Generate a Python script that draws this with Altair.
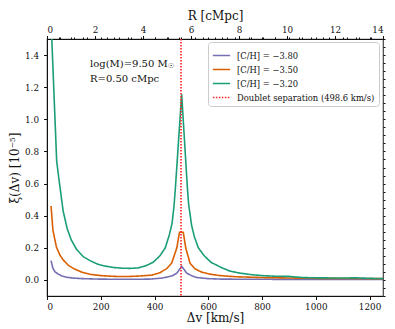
import altair as alt
import pandas as pd

# ---------------- data ----------------
names = ["[C/H] = \u22123.80", "[C/H] = \u22123.50", "[C/H] = \u22123.20"]
doublet_label = "Doublet separation (498.6 km/s)"
doublet_dv = [498.6]

purple_dv = [15, 22, 30, 41, 55, 72, 100, 134, 200, 300, 380, 430, 465, 483, 501,
             520, 540, 557, 600, 650, 800, 1000, 1250]
purple_xi = [0.12, 0.073, 0.05, 0.037, 0.025, 0.017, 0.011, 0.008, 0.005, 0.004, 0.005,
             0.012, 0.025, 0.042, 0.085, 0.042, 0.025, 0.015, 0.008, 0.005, 0.004, 0.003, 0.003]

orange_dv = [15, 22, 35, 48, 60, 80, 100, 130, 160, 200, 250, 300, 350, 390, 420, 445,
             464, 483, 493, 507, 516, 532, 550, 576, 610, 644, 700, 800, 900, 1000, 1250]
orange_xi = [0.46, 0.31, 0.205, 0.155, 0.125, 0.09, 0.07, 0.048, 0.035, 0.027, 0.022,
             0.021, 0.025, 0.03, 0.045, 0.07, 0.105, 0.2, 0.297, 0.297, 0.2, 0.105,
             0.07, 0.048, 0.035, 0.027, 0.02, 0.015, 0.012, 0.01, 0.008]

green_dv = [15, 36, 45, 60, 75, 90, 110, 135, 160, 190, 220, 250, 280, 310, 340, 370,
            395, 420, 440, 455, 465, 472, 478, 501, 522, 527, 538, 548, 563, 585, 610,
            645, 680, 720, 760, 800, 850, 900, 950, 1000, 1100, 1150, 1200, 1250]
green_xi = [1.62, 0.74, 0.62, 0.43, 0.32, 0.25, 0.19, 0.145, 0.12, 0.097, 0.085, 0.077,
            0.073, 0.072, 0.075, 0.09, 0.11, 0.15, 0.2, 0.28, 0.35, 0.45, 0.58, 1.156,
            0.58, 0.47, 0.34, 0.27, 0.2, 0.15, 0.11, 0.08, 0.055, 0.042, 0.033, 0.027,
            0.023, 0.022, 0.015, 0.013, 0.012, 0.013, 0.01, 0.008]

x_major = [0, 200, 400, 600, 800, 1000, 1200]
x_minor = [v * 50 for v in range(0, 26)]
y_major = [0.0, 0.2, 0.4, 0.6, 0.8, 1.0, 1.2, 1.4]
y_minor = [round(-0.1 + 0.05 * i, 2) for i in range(0, 33)]
r_major = [0, 2, 4, 6, 8, 10, 12, 14]
r_minor = [0.5 * i for i in range(0, 29)]

annot_dv = [160, 160]
annot_xi = [1.345, 1.25]
annot_text = ["log(M)=9.50 M", "R=0.50 cMpc"]
sun_dv = [160]
sun_xi = [1.335]
sun_text = ["\u2609"]

# ---------------- tables ----------------
rows = []
for name, xs, ys in [(names[0], purple_dv, purple_xi),
                     (names[1], orange_dv, orange_xi),
                     (names[2], green_dv, green_xi)]:
    for a, b in zip(xs, ys):
        rows.append({"dv": a, "xi": b, "series": name})
df = pd.DataFrame(rows)
df_rule = pd.DataFrame({"dv": doublet_dv, "series": [doublet_label]})
df_xminor = pd.DataFrame({"dv": [0, 1250]})
df_yminor = pd.DataFrame({"xi": [-0.1, 1.5]})
df_r = pd.DataFrame({"R": [0, 14]})
df_txt = pd.DataFrame({"dv": annot_dv, "xi": annot_xi, "t": annot_text})
df_sun = pd.DataFrame({"dv": sun_dv, "xi": sun_xi, "t": sun_text})

FONT = "DejaVu Serif"
xscale = alt.Scale(domain=[0, 1250], nice=False, zero=False)
yscale = alt.Scale(domain=[-0.1, 1.5], nice=False, zero=False)
rscale = alt.Scale(domain=[0, 14], nice=False, zero=False)

domain_all = names + [doublet_label]
color_scale = alt.Scale(domain=domain_all,
                        range=["#7570b3", "#d95f02", "#1b9e77", "#ff2020"])
dash_scale = alt.Scale(domain=domain_all,
                       range=[[1, 0], [1, 0], [1, 0], [1.5, 1.5]])

legend = alt.Legend(title=None, orient="none", legendX=161, legendY=3,
                    symbolType="stroke", symbolSize=300, symbolStrokeWidth=1.6,
                    labelFont=FONT, labelFontSize=8.4, labelColor="#111",
                    fillColor="white", strokeColor="#cccccc", padding=4,
                    cornerRadius=3, rowPadding=-4.5, labelOffset=6)

axis_common = dict(labelFont=FONT, titleFont=FONT, labelFontSize=8.8, titleFontSize=12,
                   labelColor="#111", titleColor="#111", domainColor="#111",
                   tickColor="#111", grid=False, titleFontWeight="normal")

lines = alt.Chart(df).mark_line(clip=True, strokeWidth=1.6).encode(
    x=alt.X("dv:Q", scale=xscale,
            axis=alt.Axis(values=x_major, title="\u0394v [km/s]", tickSize=3.5,
                          labelPadding=2.5, titlePadding=2, format="d", **axis_common)),
    y=alt.Y("xi:Q", scale=yscale,
            axis=alt.Axis(values=y_major, title="\u03be(\u0394v) [10\u207b\u2075]", format=".1f",
                          tickSize=3.5, labelPadding=5, titlePadding=3, **axis_common)),
    color=alt.Color("series:N", scale=color_scale, legend=legend),
    strokeDash=alt.StrokeDash("series:N", scale=dash_scale, legend=legend),
)

rule = alt.Chart(df_rule).mark_rule(strokeWidth=1.6).encode(
    x=alt.X("dv:Q", scale=xscale, axis=None),
    color=alt.Color("series:N", scale=color_scale, legend=legend),
    strokeDash=alt.StrokeDash("series:N", scale=dash_scale, legend=legend),
)

xminor = alt.Chart(df_xminor).mark_point(opacity=0).encode(
    x=alt.X("dv:Q", scale=xscale,
            axis=alt.Axis(values=x_minor, labels=False, title=None, domain=False,
                          tickSize=2, tickColor="#111", grid=False)),
)

yminor = alt.Chart(df_yminor).mark_point(opacity=0).encode(
    y=alt.Y("xi:Q", scale=yscale,
            axis=alt.Axis(values=y_minor, labels=False, title=None, domain=False,
                          tickSize=2, tickColor="#111", grid=False)),
)

rmajor = alt.Chart(df_r).mark_point(opacity=0).encode(
    x=alt.X("R:Q", scale=rscale,
            axis=alt.Axis(orient="top", values=r_major, title="R [cMpc]", tickSize=3.5,
                          labelPadding=1.5, titlePadding=3, format="d", **axis_common)),
)

rminor = alt.Chart(df_r).mark_point(opacity=0).encode(
    x=alt.X("R:Q", scale=rscale,
            axis=alt.Axis(orient="top", values=r_minor, labels=False, title=None,
                          domain=False, tickSize=2, tickColor="#111", grid=False)),
)

txt = alt.Chart(df_txt).mark_text(align="left", baseline="middle", font=FONT,
                                  fontSize=10, color="#111").encode(
    x=alt.X("dv:Q", scale=xscale, axis=None),
    y=alt.Y("xi:Q", scale=yscale, axis=None),
    text="t:N",
)

sun = alt.Chart(df_sun).mark_text(align="left", baseline="middle", font=FONT,
                                  fontSize=7, color="#111", dx=78).encode(
    x=alt.X("dv:Q", scale=xscale, axis=None),
    y=alt.Y("xi:Q", scale=yscale, axis=None),
    text="t:N",
)

chart = alt.layer(lines, rule, xminor, yminor, rmajor, rminor, txt, sun).resolve_scale(
    x="independent", y="independent"
).properties(
    width=336, height=257,
    autosize=alt.AutoSizeParams(type="none"),
    padding={"left": 39, "top": 31, "right": 4, "bottom": 32},
    background="white",
).configure_view(stroke="#444", strokeWidth=1.2)

chart.save("out.html", embed_options={"renderer": "svg", "actions": False})
